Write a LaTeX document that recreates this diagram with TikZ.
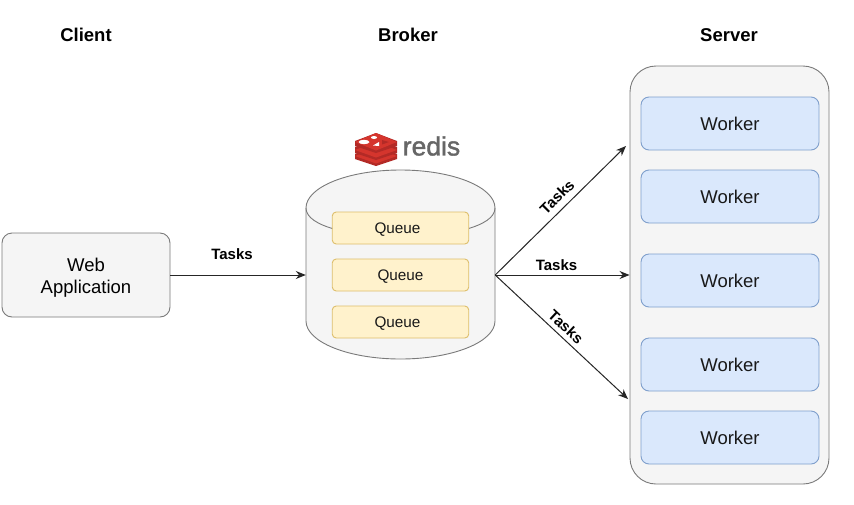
\documentclass[tikz,border=0pt]{standalone}
\usepackage{fontspec}
\setmainfont{Liberation Sans}
\usetikzlibrary{arrows.meta}
\definecolor{grayfill}{HTML}{F5F5F5}
\definecolor{grayline}{HTML}{7A7A7A}
\definecolor{yelfill}{HTML}{FFF2CC}
\definecolor{yelline}{HTML}{DDBE6A}
\definecolor{blufill}{HTML}{DAE8FC}
\definecolor{blusline}{HTML}{7F9FCC}
\definecolor{redisA}{HTML}{D5352D}
\definecolor{redisB}{HTML}{B32A26}
\definecolor{redisT}{HTML}{666666}
\newcommand{\lowertext}[2]{\raisebox{-#1}[\height][\depth]{#2}}
\tikzset{
  x=1pt,y=-1pt,
  graybox/.style={draw=grayline,fill=grayfill,line width=0.9pt,rounded corners=#1},
  queuebox/.style={draw=yelline,fill=yelfill,line width=0.9pt,rounded corners=4pt,minimum width=136.5pt,minimum height=32pt,inner sep=0pt,font=\fontsize{15.3}{18}\selectfont,text=black!90},
  workerbox/.style={draw=blusline,fill=blufill,line width=0.9pt,rounded corners=8pt,minimum width=178pt,minimum height=53pt,inner sep=0pt,font=\fontsize{18.5}{20}\selectfont,text=black!90},
  head/.style={font=\bfseries\fontsize{18.5}{20}\selectfont},
  tasklabel/.style={font=\bfseries\fontsize{15}{17}\selectfont,inner sep=0pt},
  flow/.style={draw=black!85,line width=1pt,-{Stealth[length=10pt,width=8pt]}},
  cylline/.style={draw=grayline,line width=0.9pt},
}
\begin{document}
\begin{tikzpicture}
\useasboundingbox (0,0) rectangle (854,504);
\fill[white] (0,0) rectangle (854,504);
% headings
\node[head] (hclient) at (86,35) {Client};
\node[head] (hbroker) at (408,35) {Broker};
\node[head] (hserver) at (729,35) {Server};
% client
\node[graybox=10pt,minimum width=168pt,minimum height=84pt,inner sep=0pt,font=\fontsize{18.5}{22}\selectfont] (web) at (86,275) {\lowertext{3pt}{\begin{tabular}{@{}c@{}}Web\\Application\end{tabular}}};
% server
\node[graybox=26pt,minimum width=199pt,minimum height=418pt,inner sep=0pt] (server) at (729.5,275) {};
\node[workerbox] (w1) at (730,123.5) {Worker};
\node[workerbox] (w2) at (730,196.5) {Worker};
\node[workerbox] (w3) at (730,280.5) {Worker};
\node[workerbox] (w4) at (730,364.5) {Worker};
\node[workerbox] (w5) at (730,437.5) {Worker};
% broker cylinder (node spans the part centred on the connector height)
\node[minimum width=189pt,minimum height=168pt,inner sep=0pt] (broker) at (400.5,275) {};
\path[cylline,fill=grayfill] (306,208) arc[start angle=180,end angle=0,x radius=94.5,y radius=-38]
  -- (495,321) arc[start angle=0,end angle=-180,x radius=94.5,y radius=-38] -- cycle;
\path[cylline] (306,208) .. controls (306,246) and (495,246) .. (495,208);
\node[queuebox] (q1) at (400.5,228) {\lowertext{2pt}{Queue\hspace{6pt}}};
\node[queuebox] (q2) at (400.5,275) {\lowertext{2pt}{Queue}};
\node[queuebox] (q3) at (400.5,322) {\lowertext{2pt}{Queue\hspace{6pt}}};
% redis logo
\begin{scope}[shift={(376,149)}]
  \fill[redisB] (-21,10) -- (-21,5) -- (0,-3) -- (21,5) -- (21,10) -- (0,17) -- cycle;
  \fill[redisA] (-21,7) -- (0,-1) -- (21,7) -- (0,14.5) -- cycle;
  \fill[redisB] (-21,4) -- (-21,-2) -- (0,-9) -- (21,-2) -- (21,4) -- (0,11) -- cycle;
  \fill[redisA] (-21,1) -- (0,-7) -- (21,1) -- (0,8.5) -- cycle;
  \fill[redisB] (-21,-3) -- (-21,-8) -- (0,-16) -- (21,-8) -- (21,-3) -- (0,4) -- cycle;
  \fill[redisA] (-21,-7) -- (0,-16) -- (21,-7) -- (0,1.5) -- cycle;
  \fill[white] (-12,-7) ellipse[x radius=5.5,y radius=2.2];
  \fill[white] (-2,-11.5) ellipse[x radius=3,y radius=1.5];
  \fill[white] (-3,-3.5) -- (3,-7) -- (3,-3) -- cycle;
  \fill[redisB] (6,-9) -- (13,-7) -- (6,-4.5) -- cycle;
\end{scope}
\node[font=\fontsize{26.5}{28}\selectfont,text=redisT,inner sep=0pt] (redistext) at (431.5,146) {\addfontfeature{FakeBold=1.5}redis};
% connectors
\coordinate (topend) at (626,146);
\coordinate (botend) at (628,399);
\draw[flow] (web.east) -- (broker.west);
\draw[flow] (broker.east) -- (topend);
\draw[flow] (broker.east) -- (server.west);
\draw[flow] (broker.east) -- (botend);
% labels
\node[tasklabel] (t0) at (232,254.5) {Tasks};
\node[tasklabel,rotate=45] (t1) at (557,197) {Tasks};
\node[tasklabel] (t2) at (556.5,265) {Tasks};
\node[tasklabel,rotate=-43] (t3) at (566,327) {Tasks};
\end{tikzpicture}
\end{document}
